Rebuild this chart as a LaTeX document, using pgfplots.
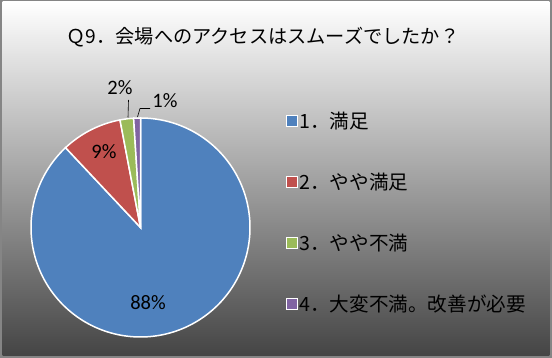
\documentclass[border=0pt]{standalone}
\usepackage{pgfplots}
\usepackage{pgfplotstable}
\usepackage{fontspec}
\pgfplotsset{compat=1.18}
\setmainfont{Carlito}
\newfontfamily\jp{Noto Sans CJK JP}
\definecolor{pieBlue}{HTML}{4F81BD}
\definecolor{pieRed}{HTML}{C0504D}
\definecolor{pieGreen}{HTML}{9BBB59}
\definecolor{piePurple}{HTML}{8064A2}
\definecolor{frameGray}{HTML}{858585}

\pgfplotstableread{
idx value
1 88
2 9
3 2
4 1
}\piedata

\begin{document}%
\begin{tikzpicture}
\pgfplotstablegetelem{0}{value}\of\piedata \let\vA\pgfplotsretval
\pgfplotstablegetelem{1}{value}\of\piedata \let\vB\pgfplotsretval
\pgfplotstablegetelem{2}{value}\of\piedata \let\vC\pgfplotsretval
\pgfplotstablegetelem{3}{value}\of\piedata \let\vD\pgfplotsretval
\pgfmathsetmacro{\aO}{90}
\pgfmathsetmacro{\aA}{\aO-3.6*\vA}
\pgfmathsetmacro{\aB}{\aA-3.6*\vB}
\pgfmathsetmacro{\aC}{\aB-3.6*\vC}
\pgfmathsetmacro{\aD}{\aC-3.6*\vD}
\def\cx{140.5}\def\cy{130.5}\def\R{109.5}
\begin{axis}[
  scale only axis, width=552pt, height=358pt,
  xmin=0, xmax=552, ymin=0, ymax=358,
  hide axis, clip=false,
  legend style={at={(axis cs:286,247.5)}, anchor=north west, draw=none, fill=none,
    inner sep=0pt, row sep=40pt, font=\jp\fontsize{19.6}{21}\selectfont,
    nodes={inner sep=1.5pt}},
  legend cell align=left,
  legend image code/.code={\draw[#1,draw=white,line width=0.8pt] (0pt,-5.5pt) rectangle (11pt,5.5pt);},
]
\fill[frameGray] (axis cs:0,0) rectangle (axis cs:552,358);
\shade[top color=white, middle color=black!15, bottom color=black!73] (axis cs:2.5,2.7) rectangle (axis cs:549.3,356.3);

\addplot[fill=pieBlue, draw=white, line width=1.5pt, domain=\aA:\aO, samples=200]
  ({\cx+\R*cos(x)},{\cy+\R*sin(x)}) -- (axis cs:\cx,\cy) -- cycle;
\addlegendentry{1．満足}
\addplot[fill=pieRed, draw=white, line width=1.5pt, domain=\aB:\aA, samples=30]
  ({\cx+\R*cos(x)},{\cy+\R*sin(x)}) -- (axis cs:\cx,\cy) -- cycle;
\addlegendentry{2．やや満足}
\addplot[fill=pieGreen, draw=white, line width=1.5pt, domain=\aC:\aB, samples=10]
  ({\cx+\R*cos(x)},{\cy+\R*sin(x)}) -- (axis cs:\cx,\cy) -- cycle;
\addlegendentry{3．やや不満}
\addplot[fill=piePurple, draw=white, line width=1.5pt, domain=\aD:\aC, samples=10]
  ({\cx+\R*cos(x)},{\cy+\R*sin(x)}) -- (axis cs:\cx,\cy) -- cycle;
\addlegendentry{4．大変不満。改善が必要}

% leader lines
\draw[black, line width=0.6pt] (axis cs:128.5,258) -- (axis cs:128,240.5);
\draw[black, line width=0.6pt] (axis cs:137.5,241) -- (axis cs:140,249.5) -- (axis cs:150,249.5);

% data labels
\node[font=\fontsize{20.5}{22}\selectfont] at (axis cs:148,55.3) {\pgfmathprintnumber[assume math mode=true]{\vA}\%};
\node[font=\fontsize{20.5}{22}\selectfont] at (axis cs:104,206.3) {\pgfmathprintnumber[assume math mode=true]{\vB}\%};
\node[font=\fontsize{20.5}{22}\selectfont] at (axis cs:120,270) {\pgfmathprintnumber[assume math mode=true]{\vC}\%};
\node[font=\fontsize{20.5}{22}\selectfont] at (axis cs:165,257) {\pgfmathprintnumber[assume math mode=true]{\vD}\%};

% title
\node[font=\jp\fontsize{19.2}{21}\selectfont] at (axis cs:263,320.5) {Ｑ9．会場へのアクセスはスムーズでしたか？};
\end{axis}
\end{tikzpicture}%
\end{document}
